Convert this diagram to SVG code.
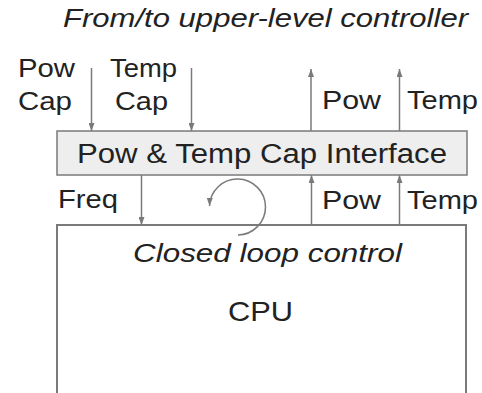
<svg xmlns="http://www.w3.org/2000/svg" width="482" height="393" viewBox="0 0 482 393">
<style>
text{font-family:"Liberation Sans",Arial,sans-serif;fill:#222}
.it{font-style:italic}
.ln{stroke:#7a7a7a;stroke-width:1.5;fill:none}
</style>
<defs>
<marker id="ah" viewBox="0 0 8 6" refX="8" refY="3" markerWidth="8" markerHeight="6" markerUnits="userSpaceOnUse" orient="auto">
<path d="M0,0 L8,3 L0,6 z" fill="#7a7a7a"/>
</marker>
</defs>
<rect width="482" height="393" fill="#fff"/>
<g id="title"><text class="it" x="63" y="27" font-size="25" textLength="405" lengthAdjust="spacingAndGlyphs">From/to upper-level controller</text></g>
<g id="interface">
<rect x="57" y="131" width="410" height="44" fill="#eeeeee" stroke="#7a7a7a" stroke-width="1.5"/>
<text x="77" y="163" font-size="27" textLength="370" lengthAdjust="spacingAndGlyphs">Pow &amp; Temp Cap Interface</text>
</g>
<g id="cpu">
<path d="M57,393 V225 H466 V393" fill="none" stroke="#7a7a7a" stroke-width="2"/>
<text x="228" y="321" font-size="28" textLength="65" lengthAdjust="spacingAndGlyphs">CPU</text>
</g>
<g id="connectors">
<line class="ln" x1="91.5" y1="68" x2="91.5" y2="131" marker-end="url(#ah)"/>
<line class="ln" x1="191.5" y1="68" x2="191.5" y2="131" marker-end="url(#ah)"/>
<line class="ln" x1="311" y1="131" x2="311" y2="69" marker-end="url(#ah)"/>
<line class="ln" x1="399.5" y1="131" x2="399.5" y2="69" marker-end="url(#ah)"/>
<line class="ln" x1="141.5" y1="175" x2="141.5" y2="225" marker-end="url(#ah)"/>
<line class="ln" x1="311.5" y1="225" x2="311.5" y2="175" marker-end="url(#ah)"/>
<line class="ln" x1="399.5" y1="225" x2="399.5" y2="175" marker-end="url(#ah)"/>
<path class="ln" d="M238,235 A28,28 0 1 0 209.5,206" marker-end="url(#ah)"/>
</g>
<g id="labels">
<text x="18" y="77" font-size="25" textLength="57" lengthAdjust="spacingAndGlyphs">Pow</text>
<text x="18" y="110" font-size="25" textLength="54" lengthAdjust="spacingAndGlyphs">Cap</text>
<text x="110" y="77" font-size="25" textLength="67" lengthAdjust="spacingAndGlyphs">Temp</text>
<text x="115" y="110" font-size="25" textLength="53" lengthAdjust="spacingAndGlyphs">Cap</text>
<text x="322" y="109" font-size="25" textLength="59" lengthAdjust="spacingAndGlyphs">Pow</text>
<text x="407" y="109" font-size="25" textLength="71" lengthAdjust="spacingAndGlyphs">Temp</text>
<text x="58" y="208" font-size="25" textLength="60" lengthAdjust="spacingAndGlyphs">Freq</text>
<text x="322" y="209" font-size="25" textLength="59" lengthAdjust="spacingAndGlyphs">Pow</text>
<text x="407" y="209" font-size="25" textLength="71" lengthAdjust="spacingAndGlyphs">Temp</text>
<text class="it" x="133" y="262" font-size="25" textLength="269" lengthAdjust="spacingAndGlyphs">Closed loop control</text>
</g>
</svg>
